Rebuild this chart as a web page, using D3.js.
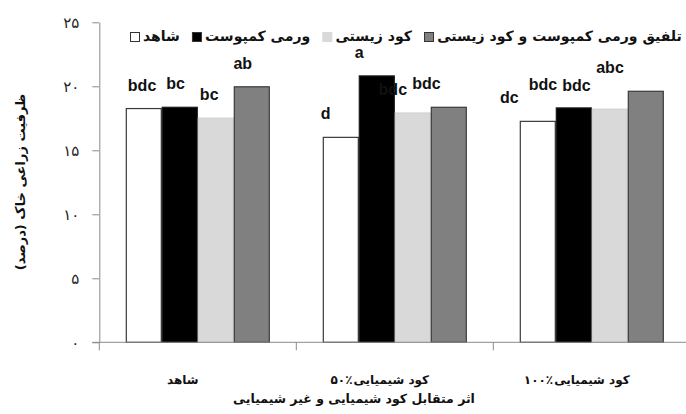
<!DOCTYPE html>
<html>
<head>
<meta charset="utf-8">
<script src="https://cdn.jsdelivr.net/npm/d3@7"></script>
<style>
  html, body { margin: 0; padding: 0; background: #fff; }
  svg { display: block; }
</style>
</head>
<body>
<svg id="chart" width="686" height="414"></svg>
<script>
// ---------------- data ----------------
const categories = ["شاهد", "۵۰٪کود شیمیایی", "۱۰۰٪کود شیمیایی"];
const seriesNames = ["شاهد", "ورمی کمپوست", "کود زیستی", "تلفیق ورمی کمپوست و کود زیستی"];
const shahedValues = [18.3, 16.05, 17.3];
const vermiValues = [18.4, 20.85, 18.35];
const bioValues = [17.55, 17.95, 18.25];
const comboValues = [20.0, 18.4, 19.65];
const shahedLetters = ["bdc", "d", "dc"];
const vermiLetters = ["bc", "a", "bdc"];
const bioLetters = ["bc", "bdc", "bdc"];
const comboLetters = ["ab", "bdc", "abc"];
const yTickValues = [0, 5, 10, 15, 20, 25];
const yTickLabels = ["۰", "۵", "۱۰", "۱۵", "۲۰", "۲۵"];
const yTitle = "ظرفیت زراعی خاک (درصد)";
const xTitle = "اثر متقابل کود شیمیایی و غیر شیمیایی";

// ---------------- styles ----------------
const fills = ["#ffffff", "#000000", "#d9d9d9", "#808080"];
const strokes = ["#3a3a3a", "#1a1a1a", "#d0d0d0", "#3a3a3a"];
const axisColor = "#8a8a8a";
const faFont = "'DejaVu Sans', sans-serif";
const latinFont = "'Liberation Sans', Arial, sans-serif";

const valuesBySeries = [shahedValues, vermiValues, bioValues, comboValues];
const lettersBySeries = [shahedLetters, vermiLetters, bioLetters, comboLetters];

const svg = d3.select("#chart");

// ---------------- scales ----------------
const plotLeft = 99.3, plotRight = 690.3, plotTop = 22.3, plotBottom = 342.3;
const x0 = d3.scaleBand().domain(categories).range([plotLeft, plotRight]).paddingInner(0).paddingOuter(0);
const groupInset = 26.5;
const x1 = d3.scaleBand().domain(d3.range(seriesNames.length))
  .range([groupInset, x0.bandwidth() - groupInset]).padding(0);
const y = d3.scaleLinear().domain([0, 25]).range([plotBottom, plotTop]);
// letters were placed on a slightly compressed horizontal scale in the original
const labelX = d3.scaleLinear().domain([plotLeft, plotRight]).range([100.6, 651.5]);

// ---------------- bars ----------------
const rows = [];
categories.forEach((c, ci) => {
  seriesNames.forEach((s, si) => {
    rows.push({ c, ci, si, v: valuesBySeries[si][ci], letter: lettersBySeries[si][ci] });
  });
});

svg.append("g").selectAll("rect").data(rows).join("rect")
  .attr("x", d => x0(d.c) + x1(d.si) + 0.5)
  .attr("y", d => y(d.v) + 0.5)
  .attr("width", x1.bandwidth() - 1)
  .attr("height", d => y(0) - y(d.v) - 0.5)
  .attr("fill", d => fills[d.si])
  .attr("stroke", d => strokes[d.si])
  .attr("stroke-width", 1.2);

// ---------------- letters ----------------
svg.append("g").selectAll("text").data(rows).join("text")
  .attr("x", d => labelX(x0(d.c) + x1(d.si) + x1.bandwidth() / 2))
  .attr("y", d => y(d.v) - 17.5)
  .attr("text-anchor", "middle")
  .attr("font-family", latinFont)
  .attr("font-weight", "bold")
  .attr("font-size", 16)
  .attr("fill", "#111")
  .text(d => d.letter);

// ---------------- y axis ----------------
const yAxis = d3.axisLeft(y).tickValues(yTickValues)
  .tickFormat((d, i) => yTickLabels[i]).tickSize(7).tickSizeOuter(0).tickPadding(13);
const gy = svg.append("g").attr("transform", `translate(${plotLeft},0)`).call(yAxis);
gy.select(".domain").attr("stroke", axisColor);
gy.selectAll(".tick line").attr("stroke", axisColor);
gy.selectAll(".tick text").attr("font-family", faFont).attr("font-size", 15).attr("fill", "#222");

// ---------------- x axis ----------------
const gx = svg.append("g");
gx.append("line").attr("x1", plotLeft - 7).attr("x2", plotRight)
  .attr("y1", plotBottom).attr("y2", plotBottom).attr("stroke", axisColor);
const boundaries = categories.map(c => x0(c)).concat([x0.range()[1]]);
gx.selectAll("line.tk").data(boundaries).join("line").attr("class", "tk")
  .attr("x1", d => d).attr("x2", d => d)
  .attr("y1", plotBottom).attr("y2", plotBottom + 8).attr("stroke", axisColor);

// category labels: the numeric prefix (e.g. ۵۰٪) is shown on the left of the words
const isNumChar = ch => {
  const code = ch.charCodeAt(0);
  return (code >= 0x06F0 && code <= 0x06F9) || (code >= 0x0660 && code <= 0x0669) || code === 0x066A || ch === "%";
};
categories.forEach(c => {
  let k = 0;
  while (k < c.length && isNumChar(c[k])) k++;
  const parts = k > 0 ? [{ t: c.slice(0, k), dir: "ltr" }, { t: c.slice(k), dir: "rtl" }] : [{ t: c, dir: "rtl" }];
  const g = gx.append("g");
  const texts = parts.map(p => g.append("text")
    .attr("y", 384)
    .attr("direction", p.dir)
    .attr("text-anchor", "middle")
    .attr("font-family", faFont)
    .attr("font-weight", "bold")
    .attr("font-size", 12)
    .attr("fill", "#111")
    .text(p.t));
  const ws = texts.map(t => t.node().getComputedTextLength());
  const total = d3.sum(ws) + (parts.length - 1) * 1;
  let left = x0(c) + x0.bandwidth() / 2 - 15 - total / 2;
  texts.forEach((t, i) => { t.attr("x", left + ws[i] / 2); left += ws[i] + 1; });
});

// ---------------- axis titles ----------------
svg.append("text")
  .attr("transform", "translate(25,182) rotate(-90)")
  .attr("text-anchor", "middle")
  .attr("direction", "rtl")
  .attr("font-family", faFont)
  .attr("font-weight", "bold")
  .attr("font-size", 13)
  .attr("fill", "#111")
  .text(yTitle);

svg.append("text")
  .attr("x", 354).attr("y", 403)
  .attr("text-anchor", "middle")
  .attr("direction", "rtl")
  .attr("font-family", faFont)
  .attr("font-weight", "bold")
  .attr("font-size", 12.5)
  .attr("fill", "#111")
  .text(xTitle);

// ---------------- legend ----------------
const legend = svg.append("g");
const legStart = 130, legEnd = 682, mk = 9, mkGap = 4, itemGap = 12;
const measure = legend.append("text").attr("font-family", faFont).attr("font-weight", "bold").attr("font-size", 12);
const widths12 = seriesNames.map(s => { measure.text(s); return measure.node().getComputedTextLength(); });
measure.remove();
const avail = (legEnd - legStart) - seriesNames.length * (mk + mkGap) - (seriesNames.length - 1) * itemGap;
let fs = 12 * avail / d3.sum(widths12);
fs = Math.max(10, Math.min(15, fs));
const widths = widths12.map(w => w * fs / 12);
let cx = legStart;
seriesNames.forEach((s, i) => {
  legend.append("rect").attr("x", cx + 0.5).attr("y", 32.5).attr("width", mk).attr("height", mk)
    .attr("fill", fills[i]).attr("stroke", i === 2 ? "#d9d9d9" : "#333").attr("stroke-width", 1);
  const tx = cx + mk + mkGap;
  legend.append("text").attr("x", tx + widths[i] / 2).attr("y", 41)
    .attr("text-anchor", "middle").attr("direction", "rtl")
    .attr("font-family", faFont).attr("font-weight", "bold").attr("font-size", fs)
    .attr("fill", "#111").text(s);
  cx = tx + widths[i] + itemGap;
});
</script>
</body>
</html>
